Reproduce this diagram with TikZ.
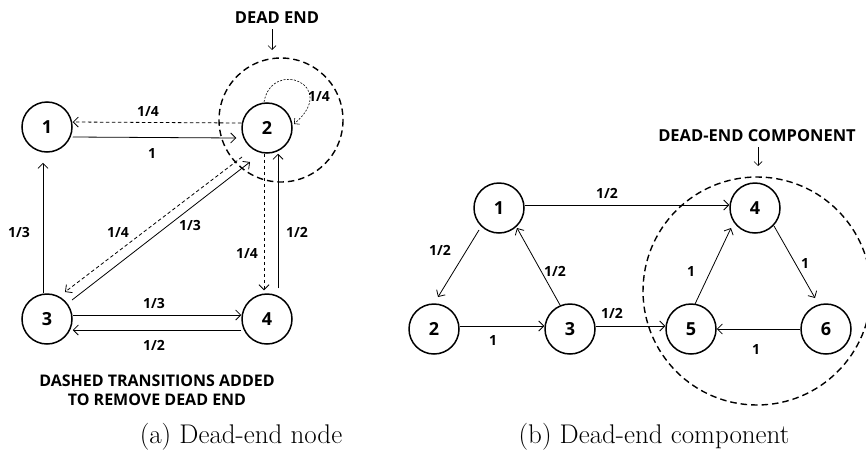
\documentclass[tikz,border=0pt]{standalone}
\usepackage{fontspec}
\newfontfamily\lbl{Open Sans}[BoldFont={* Bold}]
\usetikzlibrary{arrows.meta}
\begin{document}
\begin{tikzpicture}[x=1pt,y=-1pt,
  gnode/.style={circle,draw,line width=1.5pt,minimum size=50pt,inner sep=0pt,font=\lbl\bfseries\fontsize{18}{18}\selectfont},
  edge/.style={line width=0.8pt,-{Straight Barb[length=5pt,width=10pt]}},
  dedge/.style={edge,dash pattern=on 3.5pt off 2.5pt},
  elbl/.style={font=\lbl\bfseries\fontsize{14}{14}\selectfont,inner sep=0pt},
  note/.style={font=\lbl\bfseries\fontsize{16}{19}\selectfont,align=center,inner sep=0pt},
  bignote/.style={font=\lbl\bfseries\fontsize{16.5}{17}\selectfont,inner sep=0pt},
  region/.style={line width=1.4pt,dash pattern=on 6.5pt off 4pt},
  subcap/.style={font=\fontsize{27}{27}\selectfont,inner sep=0pt}]
\useasboundingbox (0,0) rectangle (866,458);
\clip (0,0) rectangle (866,458);
% ---------- (a) ----------
\node[gnode] (a1) at (47,127) {1};
\node[gnode] (a2) at (267,128) {2};
\node[gnode] (a3) at (47,319) {3};
\node[gnode] (a4) at (267,319) {4};
\draw[region] (281,120) circle (62);
\node[bignote] (deadend) at (277,18) {DEAD END};
\coordinate (deadtip) at (272,50);
\draw[line width=0.7pt,-{Straight Barb[length=4pt,width=8pt]}] ([xshift=-5pt,yshift=-5pt]deadend.south) -- (deadtip);
% 2 -> 1 dashed, 1 -> 2 solid
\draw[dedge] ([yshift=5pt]a2.west) -- ([yshift=5pt]a1.east);
\draw[edge] ([yshift=-10pt]a1.east) -- ([shift={(-5pt,-10pt)}]a2.west);
\node[elbl] at (148,112) {1/4};
\node[elbl] at (152,153) {1};
% 3 -> 1
\draw[edge] ([xshift=-4pt]a3.north) -- ([shift={(-4pt,-10pt)}]a1.south);
\node[elbl] at (19,232) {1/3};
% 3 -> 2 solid, 2 -> 3 dashed
\draw[edge] ([shift={(25,-19)}]a3.center) -- ([shift={(-17,34)}]a2.center);
\draw[dedge] ([shift={(-25,29)}]a2.center) -- ([shift={(18,-27)}]a3.center);
\node[elbl] at (190,225) {1/3};
\node[elbl] at (118,232) {1/4};
% 2 -> 4 dashed, 4 -> 2 solid
\draw[dedge] ([xshift=-3pt]a2.south) -- ([shift={(-3pt,3pt)}]a4.north);
\draw[edge] ([shift={(11pt,5pt)}]a4.north) -- ([xshift=11pt]a2.south);
\node[elbl] at (247,253) {1/4};
\node[elbl] at (297,232) {1/2};
% 3 <-> 4
\draw[edge] ([yshift=4pt]a3.east) -- ([yshift=4pt]a4.west);
\draw[edge] ([yshift=-11pt]a4.west) -- ([yshift=-11pt]a3.east);
\node[elbl] at (154,303) {1/3};
\node[elbl] at (154,345) {1/2};
% self loop
\draw[line width=0.6pt,dash pattern=on 2pt off 1.5pt,-{Straight Barb[length=4pt,width=8pt]}]
  ([shift={(-3,-26)}]a2.center) .. controls (272,58) and (340,85) .. ([shift={(27,-4)}]a2.center);
\node[elbl] at (319,97) {1/4};
\node[note] at (157,390) {DASHED TRANSITIONS ADDED\\TO REMOVE DEAD END};
\node[subcap] at (241,437) {(a) Dead-end node};
% ---------- (b) ----------
\node[gnode] (b1) at (499,208) {1};
\node[gnode] (b2) at (434,329) {2};
\node[gnode] (b3) at (570,329) {3};
\node[gnode] (b4) at (755,208) {4};
\node[gnode] (b5) at (691,329) {5};
\node[gnode] (b6) at (826,329) {6};
\draw[region] (757,291) circle (114);
\node[bignote] (dec) at (757,136) {DEAD-END COMPONENT};
\coordinate (dectip) at (758,166);
\draw[line width=0.7pt,-{Straight Barb[length=4pt,width=8pt]}] ([xshift=1pt,yshift=-5pt]dec.south) -- (dectip);
\draw[edge] ([yshift=3pt]b1.east) -- ([yshift=3pt]b4.west);
\node[elbl] at (607,193) {1/2};
\draw[edge] ([shift={(-20,22)}]b1.center) -- ([shift={(4,-32)}]b2.center);
\node[elbl] at (440,250) {1/2};
\draw[edge] ([shift={(-10,-24)}]b3.center) -- ([shift={(18,20)}]b1.center);
\node[elbl] at (555,271) {1/2};
\draw[edge] ([yshift=3pt]b2.east) -- ([yshift=3pt]b3.west);
\node[elbl] at (493,340) {1};
\draw[edge] ([yshift=3pt]b3.east) -- ([yshift=3pt]b5.west);
\node[elbl] at (612,313) {1/2};
\draw[edge] ([shift={(4,-25)}]b5.center) -- ([shift={(-24,20)}]b4.center);
\node[elbl] at (691,271) {1};
\draw[edge] ([shift={(19,18)}]b4.center) -- ([shift={(-11,-31)}]b6.center);
\node[elbl] at (805,263) {1};
\draw[edge] (b6.west) -- (b5.east);
\node[elbl] at (756,349) {1};
\node[subcap] at (654,437) {(b) Dead-end component};
\end{tikzpicture}
\end{document}
